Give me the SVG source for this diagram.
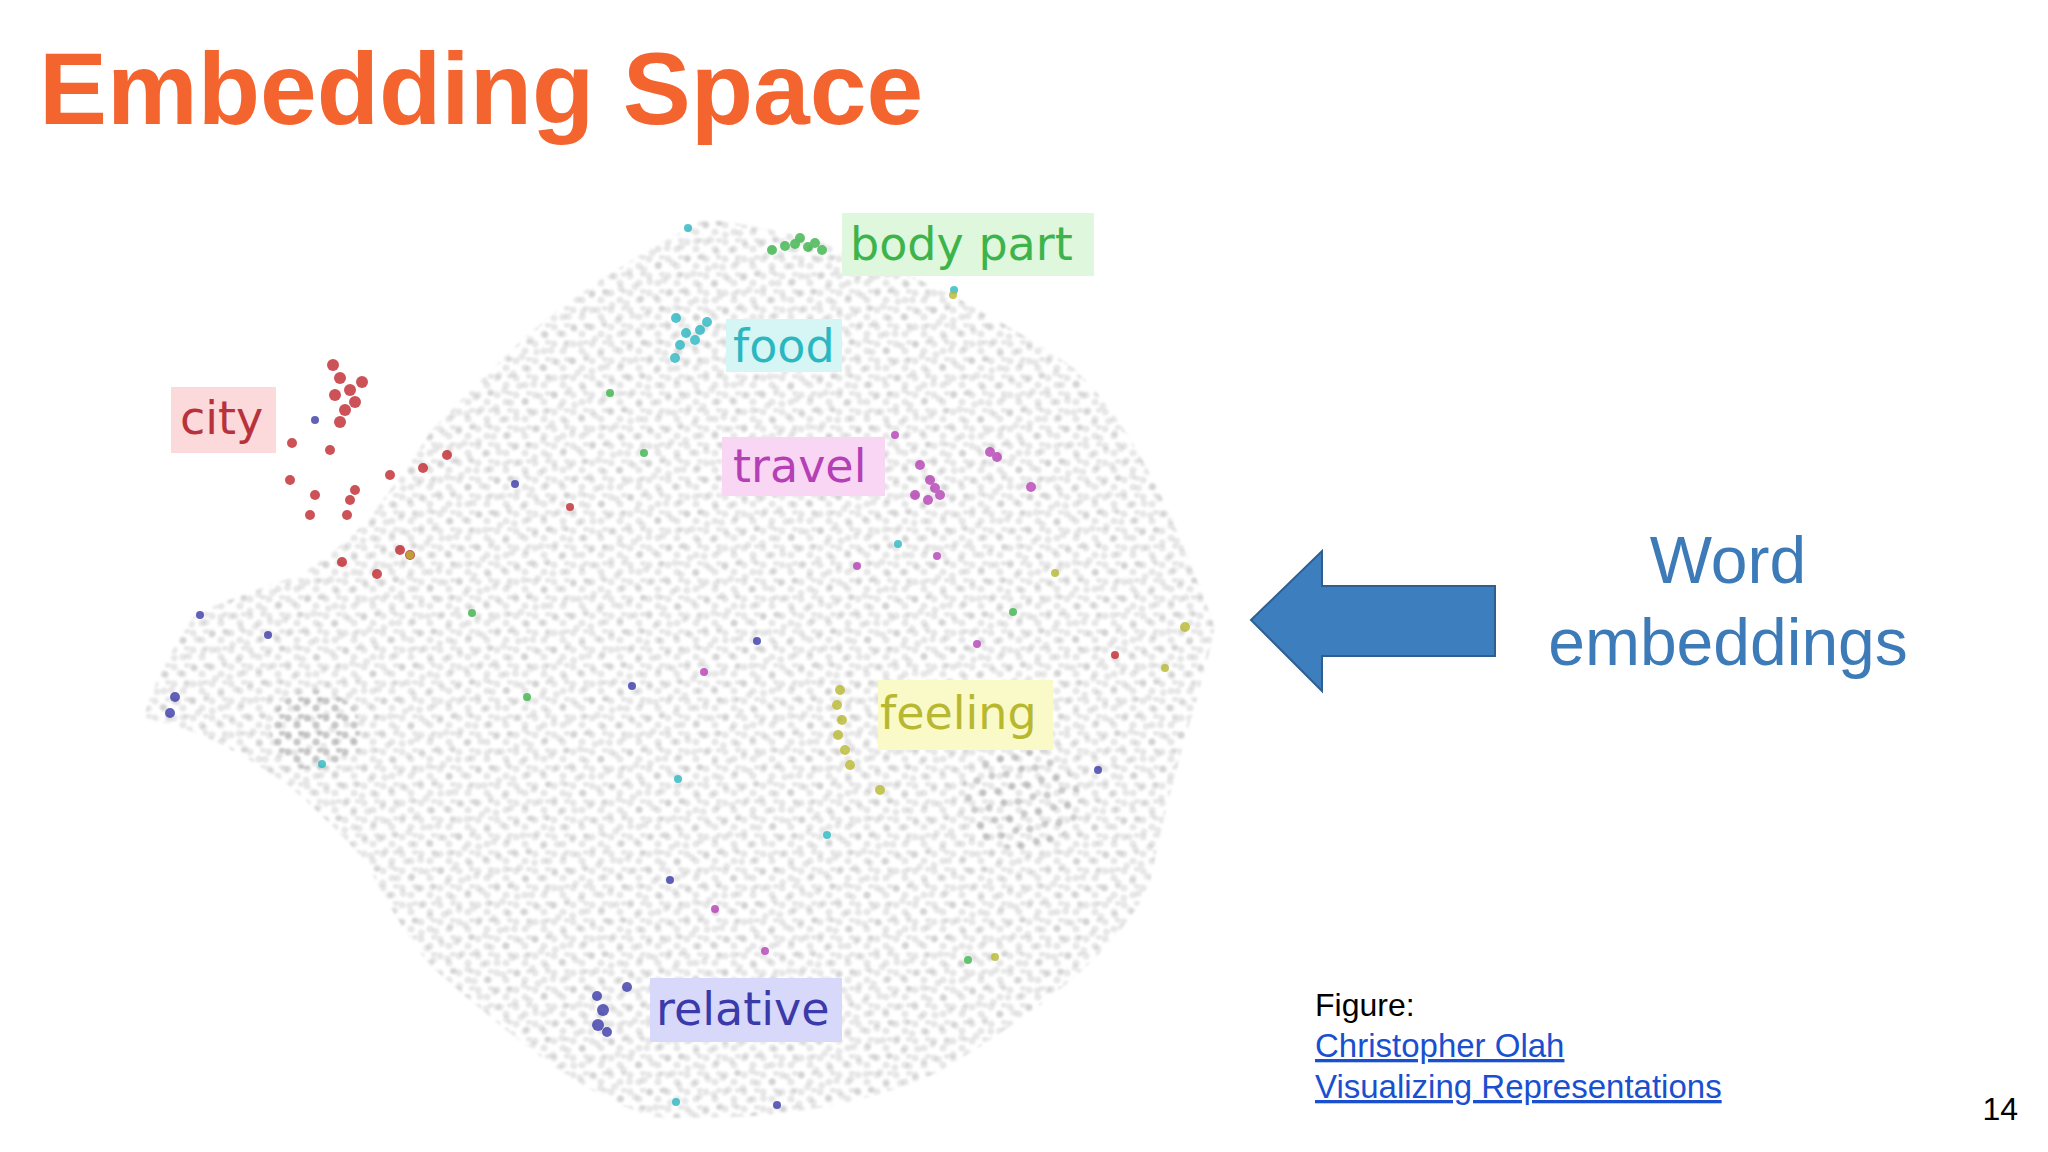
<svg xmlns="http://www.w3.org/2000/svg" width="2048" height="1152" viewBox="0 0 2048 1152">
<defs>
<pattern id="p1" width="19" height="17" patternUnits="userSpaceOnUse">
<circle cx="3" cy="4" r="3.6" fill="#9a9a9a"/><circle cx="12" cy="11" r="3.6" fill="#9a9a9a"/><circle cx="16" cy="2" r="3" fill="#9a9a9a"/>
</pattern>
<pattern id="p2" width="23" height="19" patternUnits="userSpaceOnUse" patternTransform="rotate(27)">
<circle cx="6" cy="5" r="3.6" fill="#8a8a8a"/><circle cx="17" cy="13" r="3.4" fill="#8a8a8a"/>
</pattern>
<filter id="soft"><feGaussianBlur stdDeviation="0.8"/></filter>
<style>
.lbl{font-family:"DejaVu Sans",sans-serif;font-size:46px}
.c{stroke:none;opacity:.8}
.f{font-family:"Liberation Sans",Arial,sans-serif}
</style>
</defs>
<rect width="2048" height="1152" fill="#ffffff"/>
<text x="39" y="124" class="f" font-size="102" font-weight="bold" fill="#f4642e">Embedding Space</text>
<g id="scatter" filter="url(#soft)">
<path d="M705,219 C800,230 914,261 1071,366 C1140,430 1175,522 1215,627 C1200,700 1175,757 1149,888 C1120,940 1071,993 940,1071 C880,1100 784,1123 653,1117 C600,1100 549,1071 431,966 C400,930 366,862 366,862 C330,820 287,784 287,784 C250,760 209,731 144,718 C160,660 196,614 196,614 C250,590 300,575 300,575 C340,550 366,522 366,522 C400,480 431,431 431,431 C480,380 522,340 522,340 C580,290 627,261 705,219 Z" fill="url(#p1)" opacity="0.24"/>
<path d="M705,219 C800,230 914,261 1071,366 C1140,430 1175,522 1215,627 C1200,700 1175,757 1149,888 C1120,940 1071,993 940,1071 C880,1100 784,1123 653,1117 C600,1100 549,1071 431,966 C400,930 366,862 366,862 C330,820 287,784 287,784 C250,760 209,731 144,718 C160,660 196,614 196,614 C250,590 300,575 300,575 C340,550 366,522 366,522 C400,480 431,431 431,431 C480,380 522,340 522,340 C580,290 627,261 705,219 Z" fill="url(#p2)" opacity="0.2"/>
<ellipse cx="315" cy="730" rx="45" ry="40" fill="url(#p1)" opacity="0.4"/>
<ellipse cx="1020" cy="800" rx="60" ry="50" fill="url(#p2)" opacity="0.3"/>
</g>
<g id="points">
<g fill="#3cb44b" class="c"><circle cx="772" cy="250" r="5"/><circle cx="785" cy="246" r="5"/><circle cx="795" cy="244" r="5"/><circle cx="800" cy="238" r="5"/><circle cx="808" cy="247" r="5"/><circle cx="815" cy="243" r="5"/><circle cx="822" cy="250" r="5"/><circle cx="610" cy="393" r="4"/><circle cx="644" cy="453" r="4"/><circle cx="472" cy="613" r="4"/><circle cx="527" cy="697" r="4"/><circle cx="1013" cy="612" r="4"/><circle cx="968" cy="960" r="4"/></g>
<g fill="#2ab7c0" class="c"><circle cx="675" cy="358" r="5"/><circle cx="680" cy="345" r="5"/><circle cx="686" cy="333" r="5"/><circle cx="695" cy="340" r="5"/><circle cx="700" cy="330" r="5"/><circle cx="707" cy="322" r="5"/><circle cx="676" cy="318" r="5"/><circle cx="688" cy="228" r="4"/><circle cx="954" cy="290" r="4"/><circle cx="898" cy="544" r="4"/><circle cx="322" cy="764" r="4"/><circle cx="678" cy="779" r="4"/><circle cx="827" cy="835" r="4"/><circle cx="676" cy="1102" r="4"/></g>
<g fill="#c0282e" class="c"><circle cx="333" cy="365" r="6"/><circle cx="340" cy="378" r="6"/><circle cx="350" cy="390" r="6"/><circle cx="335" cy="395" r="6"/><circle cx="355" cy="402" r="6"/><circle cx="345" cy="410" r="6"/><circle cx="340" cy="422" r="6"/><circle cx="362" cy="382" r="6"/><circle cx="330" cy="450" r="5"/><circle cx="290" cy="480" r="5"/><circle cx="315" cy="495" r="5"/><circle cx="310" cy="515" r="5"/><circle cx="350" cy="500" r="5"/><circle cx="355" cy="490" r="5"/><circle cx="347" cy="515" r="5"/><circle cx="390" cy="475" r="5"/><circle cx="423" cy="468" r="5"/><circle cx="447" cy="455" r="5"/><circle cx="400" cy="550" r="5"/><circle cx="410" cy="555" r="5"/><circle cx="377" cy="574" r="5"/><circle cx="342" cy="562" r="5"/><circle cx="292" cy="443" r="5"/><circle cx="570" cy="507" r="4"/><circle cx="1115" cy="655" r="4"/></g>
<g fill="#b540b5" class="c"><circle cx="920" cy="465" r="5"/><circle cx="930" cy="480" r="5"/><circle cx="915" cy="495" r="5"/><circle cx="928" cy="500" r="5"/><circle cx="940" cy="495" r="5"/><circle cx="935" cy="488" r="5"/><circle cx="990" cy="452" r="5"/><circle cx="997" cy="457" r="5"/><circle cx="1031" cy="487" r="5"/><circle cx="895" cy="435" r="4"/><circle cx="857" cy="566" r="4"/><circle cx="937" cy="556" r="4"/><circle cx="977" cy="644" r="4"/><circle cx="704" cy="672" r="4"/><circle cx="715" cy="909" r="4"/><circle cx="765" cy="951" r="4"/></g>
<g fill="#b8b830" class="c"><circle cx="840" cy="690" r="5"/><circle cx="837" cy="705" r="5"/><circle cx="842" cy="720" r="5"/><circle cx="838" cy="735" r="5"/><circle cx="845" cy="750" r="5"/><circle cx="850" cy="765" r="5"/><circle cx="880" cy="790" r="5"/><circle cx="1055" cy="573" r="4"/><circle cx="1185" cy="627" r="5"/><circle cx="1165" cy="668" r="4"/><circle cx="953" cy="295" r="4"/><circle cx="410" cy="555" r="4"/><circle cx="995" cy="957" r="4"/></g>
<g fill="#3a3aa8" class="c"><circle cx="597" cy="996" r="5"/><circle cx="603" cy="1010" r="6"/><circle cx="598" cy="1025" r="6"/><circle cx="607" cy="1032" r="5"/><circle cx="627" cy="987" r="5"/><circle cx="175" cy="697" r="5"/><circle cx="170" cy="713" r="5"/><circle cx="200" cy="615" r="4"/><circle cx="268" cy="635" r="4"/><circle cx="315" cy="420" r="4"/><circle cx="757" cy="641" r="4"/><circle cx="632" cy="686" r="4"/><circle cx="515" cy="484" r="4"/><circle cx="670" cy="880" r="4"/><circle cx="777" cy="1105" r="4"/><circle cx="1098" cy="770" r="4"/></g>
</g>
<g id="labels">
<g id="body-part"><rect x="842" y="213" width="252" height="63" fill="#dff7dc"/><text x="850" y="260" class="lbl" fill="#3cb44b">body part</text></g>
<g id="food"><rect x="726" y="319" width="116" height="53" fill="#d6f6f6"/><text x="733" y="362" class="lbl" fill="#2ab7c0">food</text></g>
<g id="city"><rect x="171" y="387" width="105" height="66" fill="#fcd9db"/><text x="180" y="434" class="lbl" fill="#b8323a">city</text></g>
<g id="travel"><rect x="722" y="437" width="163" height="59" fill="#fad6f5"/><text x="733" y="482" class="lbl" fill="#b540b5">travel</text></g>
<g id="feeling"><rect x="878" y="680" width="175" height="70" fill="#fafac8"/><text x="880" y="729" class="lbl" fill="#b8b830">feeling</text></g>
<g id="relative"><rect x="650" y="978" width="192" height="64" fill="#d8d8fa"/><text x="656" y="1025" class="lbl" fill="#3a3aa8">relative</text></g>
</g>
<g id="connectors">
<polygon points="1251,620 1322,551 1322,586 1495,586 1495,656 1322,656 1322,691" fill="#3d7ebf" stroke="#2e5f90" stroke-width="2"/>
</g>
<g id="caption">
<text x="1728" y="583" class="f" font-size="66" fill="#3d7ab8" text-anchor="middle">Word</text>
<text x="1728" y="665" class="f" font-size="66" fill="#3d7ab8" text-anchor="middle">embeddings</text>
<text x="1315" y="1016" class="f" font-size="32" fill="#000">Figure:</text>
<text x="1315" y="1057" class="f" font-size="33" fill="#1a4fd0" text-decoration="underline">Christopher Olah</text>
<text x="1315" y="1098" class="f" font-size="33" fill="#1a4fd0" text-decoration="underline">Visualizing Representations</text>
<text x="2018" y="1120" class="f" font-size="32" fill="#000" text-anchor="end">14</text>
</g>
</svg>
